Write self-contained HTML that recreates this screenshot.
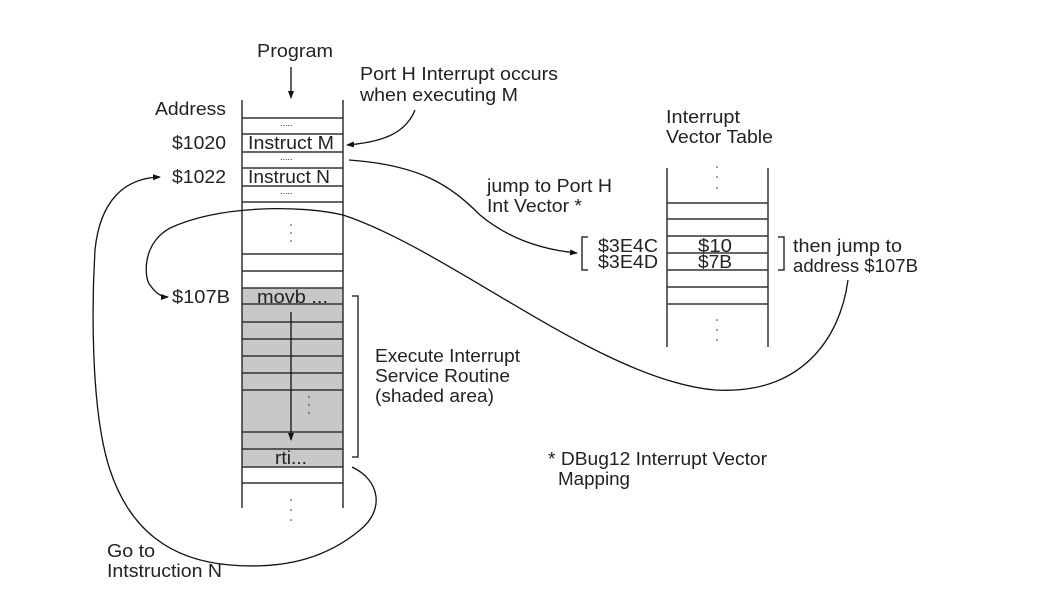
<!DOCTYPE html>
<html><head><meta charset="utf-8"><style>
body{margin:0;background:#fff}
svg{display:block}
text{font-family:"Liberation Sans",sans-serif;font-size:18px;fill:#222}
</style></head><body>
<svg width="1037" height="601" viewBox="0 0 1037 601" xmlns="http://www.w3.org/2000/svg">
<defs><marker id="a" markerWidth="8" markerHeight="8" refX="7" refY="4" orient="auto" markerUnits="userSpaceOnUse"><path d="M0,1 L8,4 L0,7 z" fill="#111"/></marker></defs>
<g stroke="#333" stroke-width="1.5" fill="none">
<rect x="242" y="288" width="101" height="179" fill="#c8c8c8" stroke="none"/>
<line x1="242" y1="100" x2="242" y2="508"/>
<line x1="343" y1="100" x2="343" y2="508"/>
<path d="M242 118H343M242 134H343M242 152H343M242 168H343M242 186H343M242 202H343M242 254H343M242 271H343M242 288H343M242 304H343M242 322H343M242 339H343M242 356H343M242 373H343M242 390H343M242 432H343M242 449H343M242 467H343M242 483H343"/>
<path d="M352 296H358V457H352"/>
<line x1="667" y1="168" x2="667" y2="347"/>
<line x1="768" y1="168" x2="768" y2="347"/>
<path d="M667 203H768M667 219H768M667 236H768M667 253H768M667 270H768M667 287H768M667 304H768"/>
<path d="M588 237H582V270H588"/>
<path d="M778 237H784V270H778"/>
</g>
<g stroke="#111" stroke-width="1.3" fill="none">
<line x1="291" y1="67" x2="291" y2="98" marker-end="url(#a)"/>
<line x1="291" y1="312" x2="291" y2="440" marker-end="url(#a)"/>
<path d="M415 110 C405 135 380 142 347 145" marker-end="url(#a)"/>
<path d="M349 160 C420 165 450 185 480 215 C510 240 545 250 577 253" marker-end="url(#a)"/>
<path d="M848 280 C840 340 800 395 715 390 C600 380 450 250 343 215 C300 205 220 205 170 228 C140 245 145 280 150 285 C155 292 160 297 168 297" marker-end="url(#a)"/>
<path d="M352 467 C380 480 385 510 360 530 C330 555 290 570 230 565 C170 560 130 530 110 470 C90 410 92 300 95 250 C100 200 125 178 160 177" marker-end="url(#a)"/>
</g>
<g fill="#333">
<circle cx="291" cy="225" r="0.8"/><circle cx="291" cy="233" r="0.8"/><circle cx="291" cy="241" r="0.8"/>
<circle cx="309" cy="397" r="0.8"/><circle cx="309" cy="405" r="0.8"/><circle cx="309" cy="413" r="0.8"/>
<circle cx="291" cy="500" r="0.8"/><circle cx="291" cy="510" r="0.8"/><circle cx="291" cy="520" r="0.8"/>
<circle cx="717" cy="167" r="0.8"/><circle cx="717" cy="177" r="0.8"/><circle cx="717" cy="188" r="0.8"/>
<circle cx="717" cy="320" r="0.8"/><circle cx="717" cy="330" r="0.8"/><circle cx="717" cy="340" r="0.8"/>
</g>
<g lengthAdjust="spacingAndGlyphs">
<text x="257" y="57" textLength="76" lengthAdjust="spacingAndGlyphs">Program</text>
<text x="155" y="115" textLength="71" lengthAdjust="spacingAndGlyphs">Address</text>
<text x="172" y="149" textLength="54" lengthAdjust="spacingAndGlyphs">$1020</text>
<text x="172" y="183" textLength="54" lengthAdjust="spacingAndGlyphs">$1022</text>
<text x="172" y="303" textLength="58" lengthAdjust="spacingAndGlyphs">$107B</text>
<text x="248" y="149" textLength="86" lengthAdjust="spacingAndGlyphs">Instruct M</text>
<text x="248" y="183" textLength="82" lengthAdjust="spacingAndGlyphs">Instruct N</text>
<text x="280" y="126" style="font-size:9px">.....</text>
<text x="280" y="160" style="font-size:9px">.....</text>
<text x="280" y="194" style="font-size:9px">.....</text>
<text x="257" y="303" textLength="71" lengthAdjust="spacingAndGlyphs">movb ...</text>
<text x="275" y="464" textLength="32" lengthAdjust="spacingAndGlyphs">rti...</text>
<text x="360" y="80" textLength="198" lengthAdjust="spacingAndGlyphs">Port H Interrupt occurs</text>
<text x="360" y="101" textLength="158" lengthAdjust="spacingAndGlyphs">when executing M</text>
<text x="487" y="192" textLength="125" lengthAdjust="spacingAndGlyphs">jump to Port H</text>
<text x="487" y="212" textLength="95" lengthAdjust="spacingAndGlyphs">Int Vector *</text>
<text x="666" y="123" textLength="74" lengthAdjust="spacingAndGlyphs">Interrupt</text>
<text x="666" y="143" textLength="107" lengthAdjust="spacingAndGlyphs">Vector Table</text>
<text x="598" y="252" textLength="60" lengthAdjust="spacingAndGlyphs">$3E4C</text>
<text x="598" y="268" textLength="60" lengthAdjust="spacingAndGlyphs">$3E4D</text>
<text x="698" y="252" textLength="34" lengthAdjust="spacingAndGlyphs">$10</text>
<text x="698" y="268" textLength="34" lengthAdjust="spacingAndGlyphs">$7B</text>
<text x="793" y="252" textLength="109" lengthAdjust="spacingAndGlyphs">then jump to</text>
<text x="793" y="272" textLength="125" lengthAdjust="spacingAndGlyphs">address $107B</text>
<text x="375" y="362" textLength="145" lengthAdjust="spacingAndGlyphs">Execute Interrupt</text>
<text x="375" y="382" textLength="135" lengthAdjust="spacingAndGlyphs">Service Routine</text>
<text x="375" y="402" textLength="119" lengthAdjust="spacingAndGlyphs">(shaded area)</text>
<text x="548" y="465" textLength="219" lengthAdjust="spacingAndGlyphs">* DBug12 Interrupt Vector</text>
<text x="558" y="485" textLength="72" lengthAdjust="spacingAndGlyphs">Mapping</text>
<text x="107" y="557" textLength="48" lengthAdjust="spacingAndGlyphs">Go to</text>
<text x="107" y="577" textLength="115" lengthAdjust="spacingAndGlyphs">Intstruction N</text>
</g>
</svg>
</body></html>
